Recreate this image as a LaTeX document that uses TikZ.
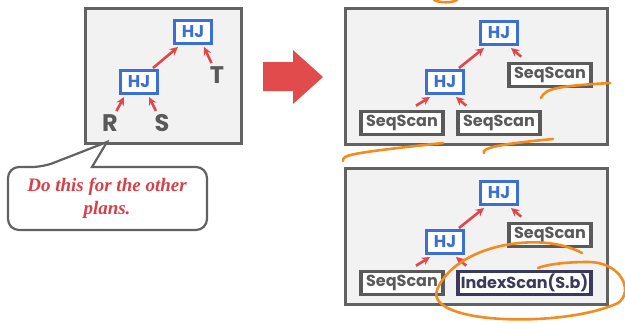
\documentclass[tikz,border=0pt]{standalone}
\usepackage{fontspec}
\setsansfont{Poppins}
\newfontfamily\notefont{Liberation Serif}
\usepackage{tikz}
\definecolor{hjblue}{RGB}{59,111,214}
\definecolor{linkred}{RGB}{224,71,76}
\definecolor{bigred}{RGB}{226,75,75}
\definecolor{scangray}{RGB}{90,90,90}
\definecolor{panelgray}{RGB}{242,242,242}
\definecolor{idxnavy}{RGB}{58,58,92}
\definecolor{penorange}{RGB}{242,140,30}
\definecolor{notered}{RGB}{214,64,72}

\begin{document}
\begin{tikzpicture}[x=1pt,y=-1pt,
  panel/.style={draw=scangray!95,fill=panelgray,line width=2.6pt},
  hj/.style={draw=hjblue,fill=white,text=hjblue,line width=3pt,inner sep=0pt,
    minimum width=37pt,minimum height=23pt,font=\sffamily\bfseries\fontsize{17}{17}\selectfont},
  scan/.style={draw=scangray,fill=white,text=scangray,line width=3.6pt,inner sep=0pt,
    minimum width=82pt,minimum height=23pt,font=\sffamily\bfseries\fontsize{16}{16}\selectfont},
  rel/.style={text=scangray,font=\sffamily\bfseries\fontsize{24}{24}\selectfont},
  link/.style={draw=linkred,line width=2.6pt,->,>=stealth},
  pen/.style={draw=penorange,line width=2.6pt,line cap=round}]
\useasboundingbox (0,0) rectangle (625,322);

\draw[panel] (85.5,8.5) rectangle (241.5,143.5);
\node[hj] (lhjtop) at (193,32) {HJ};
\node[hj] (lhjlow) at (139,82) {HJ};
\node[rel] (r) at (110,123) {R};
\node[rel] (s) at (162,123) {S};
\node[rel] (t) at (217,75) {T};
\draw[link] ([yshift=16]r) -- ([xshift=5,yshift=-2]lhjlow.south west);
\draw[link] ([xshift=1,yshift=16]s) -- ([xshift=-10,yshift=-2]lhjlow.south east);
\draw[link] ([xshift=-6,yshift=1]lhjlow.north east) -- ([xshift=5,yshift=-2]lhjtop.south west);
\draw[link] ([yshift=17]t) -- ([xshift=-9,yshift=-2]lhjtop.south east);

\draw[draw=scangray!95,fill=white,line width=2.2pt,rounded corners=11pt]
  (150,167) -- (207,167) -- (207,230) -- (8,230) -- (8,167) -- (43,167)
  [sharp corners] -- (107,142) -- (92,167) -- cycle;
\node[text=notered,align=center,font=\notefont\bfseries\itshape\fontsize{19}{23}\selectfont]
  (note) at (107,198) {Do this for the other\\plans.};

\fill[bigred] (263,62) -- (293,62) -- (293,50) -- (323,77) -- (293,104) -- (293,91) -- (263,91) -- cycle;

\draw[panel] (345.5,8.5) rectangle (607.5,144.5);
\node[hj] (ahjtop) at (499,33) {HJ};
\node[hj] (ahjlow) at (445,82) {HJ};
\node[scan] (ascanr) at (550,75) {SeqScan};
\node[scan] (ascanl) at (402,123) {SeqScan};
\node[scan] (ascanm) at (499,123) {SeqScan};
\draw[link] ([xshift=14,yshift=4]ascanl.north) -- ([xshift=5,yshift=-2]ahjlow.south west);
\draw[link] ([xshift=10,yshift=4]ascanm.north west) -- ([xshift=-9,yshift=-2]ahjlow.south east);
\draw[link] ([xshift=-6,yshift=1]ahjlow.north east) -- ([xshift=5,yshift=-2]ahjtop.south west);
\draw[link] ([xshift=14,yshift=5]ascanr.north west) -- ([xshift=-8,yshift=-2]ahjtop.south east);

\draw[panel] (345.5,168.5) rectangle (607.5,304.5);
\node[hj] (bhjtop) at (499,193) {HJ};
\node[hj] (bhjlow) at (445,242) {HJ};
\node[scan] (bscanr) at (550,235) {SeqScan};
\node[scan] (bscanl) at (402,283) {SeqScan};
\node[scan,draw=idxnavy,text=idxnavy,minimum width=133pt] (bindex) at (524.5,283) {IndexScan(S.b)};
\draw[link] ([xshift=14,yshift=4]bscanl.north) -- ([xshift=5,yshift=-2]bhjlow.south west);
\draw[link] ([xshift=10,yshift=4]bindex.north west) -- ([xshift=-9,yshift=-2]bhjlow.south east);
\draw[link] ([xshift=-6,yshift=1]bhjlow.north east) -- ([xshift=5,yshift=-2]bhjtop.south west);
\draw[link] ([xshift=14,yshift=5]bscanr.north west) -- ([xshift=-8,yshift=-2]bhjtop.south east);

\draw[pen] (434,0) .. controls (440,3) and (452,3) .. (457,0);
\draw[pen] (541,98) .. controls (545,88) and (560,86) .. (610,83);
\draw[pen] (343,161) .. controls (342,155) and (350,153) .. (443,143);
\draw[pen] (484,153) .. controls (481,148) and (500,144) .. (553,139);
\draw[pen] (582,253) .. controls (540,230) and (455,245) .. (437,290)
  .. controls (425,325) and (565,328) .. (618,303)
  .. controls (634,292) and (622,262) .. (588,262)
  .. controls (568,262) and (548,264) .. (538,268);
\end{tikzpicture}
\end{document}
